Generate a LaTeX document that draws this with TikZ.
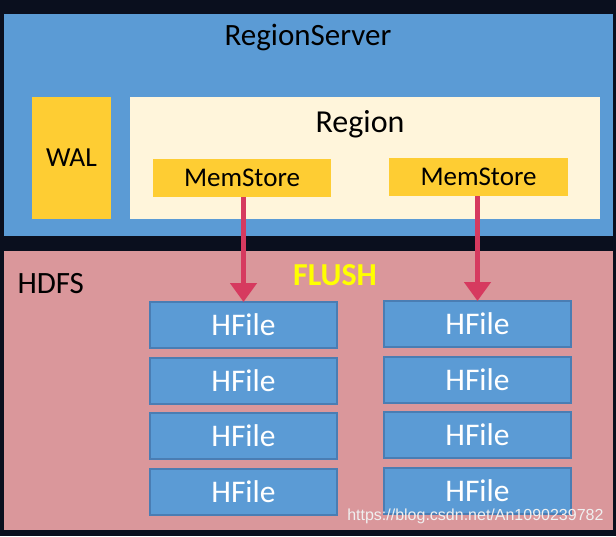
\documentclass[tikz,border=0pt]{standalone}
\usepackage{fontspec}
\setmainfont{Carlito}
\newfontfamily\wmfont{Liberation Sans}
\usetikzlibrary{arrows.meta}
\definecolor{bg}{HTML}{0A0F1E}
\definecolor{rsblue}{HTML}{5B9BD5}
\definecolor{hfborder}{HTML}{4A7DB3}
\definecolor{ylw}{HTML}{FECD33}
\definecolor{cream}{HTML}{FFF5DB}
\definecolor{pinkbg}{HTML}{DA979B}
\definecolor{arrowred}{HTML}{D63A5F}
\definecolor{flushy}{HTML}{FFFF00}
\begin{document}
\begin{tikzpicture}[x=1pt,y=-1pt,
  box/.style={draw=none,inner sep=0pt,outer sep=0pt,anchor=north west},
  hfile/.style={draw=hfborder,line width=1.2pt,fill=rsblue,inner sep=0pt,outer sep=0pt,anchor=north west,minimum width=187pt,minimum height=46pt,text=white,font=\fontsize{31.5}{31.5}\selectfont},
  memstore/.style={fill=ylw,inner sep=0pt,outer sep=0pt,anchor=north west,minimum height=38pt,font=\fontsize{27}{27}\selectfont},
  flush/.style={draw=arrowred,line width=5pt,-{Triangle[length=19pt,width=26pt]}}]
\fill[bg] (0,0) rectangle (616,536);
\useasboundingbox (0,0) rectangle (616,536);
% RegionServer
\node[box,fill=rsblue,minimum width=609pt,minimum height=222pt] (rs) at (4,14) {};
\node[font=\fontsize{31}{31}\selectfont] (rstext) at (308,37) {RegionServer};
\node[box,fill=ylw,minimum width=79pt,minimum height=122pt,font=\fontsize{27.5}{27.5}\selectfont] (wal) at (32,97) {WAL};
\node[box,fill=cream,minimum width=470pt,minimum height=122pt] (region) at (130,97) {};
\node[font=\fontsize{32}{32}\selectfont] (regtext) at (360,124) {Region};
\node[memstore,minimum width=178pt] (ms1) at (153,159) {MemStore};
\node[memstore,minimum width=179pt] (ms2) at (389,158) {MemStore};
% HDFS
\node[box,fill=pinkbg,minimum width=609pt,minimum height=279pt] (hdfs) at (4,251) {};
\node[font=\fontsize{31}{31}\selectfont,anchor=west] (hdfstext) at (14,284) {HDFS};
\node[font=\bfseries\fontsize{32}{32}\selectfont,text=flushy] (flushtext) at (335,275) {FLUSH};
\node[hfile] (l1) at (150,302) {HFile};
\node[hfile] (l2) at (150,358) {HFile};
\node[hfile] (l3) at (150,413) {HFile};
\node[hfile] (l4) at (150,469) {HFile};
\node[hfile] (r1) at (384,301) {HFile};
\node[hfile] (r2) at (384,357) {HFile};
\node[hfile] (r3) at (384,412) {HFile};
\node[hfile] (r4) at (384,468) {HFile};
\draw[flush] (ms1.south -| l1.north) -- (l1.north);
\draw[flush] (ms2.south -| r1.north) -- (r1.north);
\node[font=\wmfont\fontsize{16}{16}\selectfont,text=white!88!gray,anchor=east] (wm) at (607,516) {https://blog.csdn.net/An1090239782};
\end{tikzpicture}
\end{document}
